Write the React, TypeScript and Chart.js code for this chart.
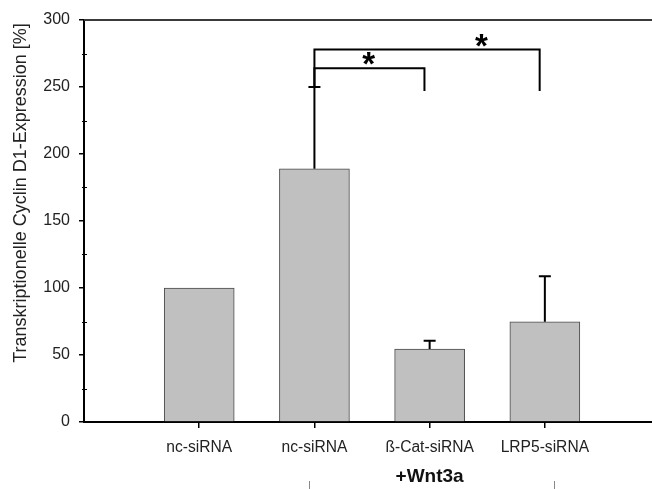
import React, { useEffect, useRef } from "react";
import { Chart, registerables } from "chart.js";

Chart.register(...registerables);

const categories = ["nc-siRNA", "nc-siRNA", "ß-Cat-siRNA", "LRP5-siRNA"];
const means = [100, 189, 54.5, 74.8];
const errors = [0, 61, 6.2, 34];
const yTicks = [0, 50, 100, 150, 200, 250, 300];
const minorTicks = [25, 75, 125, 175, 225, 275];
const yTitle = "Transkriptionelle Cyclin D1-Expression [%]";
const groupLabel = "+Wnt3a";
// significance brackets: from category, to category, bar level, drop level, star position
const brackets = [
  { from: 2, to: 2.955, level: 264, drop: 247, starX: 2.47, starY: 271.6 },
  { from: 2, to: 3.955, level: 278, drop: 247, starX: 3.45, starY: 284.6 },
];
const groupSpan = [1.95, 4.08];

const FONT = "Arial, 'Liberation Sans', sans-serif";

export default function App() {
  const ref = useRef<HTMLCanvasElement | null>(null);

  useEffect(() => {
    if (!ref.current) return;
    const overlay = {
      id: "overlay",
      afterDatasetsDraw(chart: any) {
        const ctx = chart.ctx as CanvasRenderingContext2D;
        const x = chart.scales.x;
        const y = chart.scales.y;
        const area = chart.chartArea;
        ctx.save();
        // top frame line
        ctx.strokeStyle = "#3a3a3a";
        ctx.lineWidth = 2;
        ctx.beginPath();
        ctx.moveTo(area.left, area.top);
        ctx.lineTo(area.right, area.top);
        ctx.stroke();
        // minor ticks
        ctx.strokeStyle = "#000";
        ctx.lineWidth = 1;
        minorTicks.forEach((v) => {
          const py = Math.round(y.getPixelForValue(v)) + 0.5;
          ctx.beginPath();
          ctx.moveTo(area.left - 2, py);
          ctx.lineTo(area.left + 3, py);
          ctx.stroke();
        });
        // error bars
        ctx.strokeStyle = "#000";
        ctx.lineWidth = 2;
        means.forEach((m, i) => {
          const e = errors[i];
          if (!e) return;
          const px = x.getPixelForValue(i + 1);
          const top = y.getPixelForValue(m + e);
          const base = y.getPixelForValue(m);
          ctx.beginPath();
          ctx.moveTo(px, base);
          ctx.lineTo(px, top);
          ctx.moveTo(px - 6, top);
          ctx.lineTo(px + 6, top);
          ctx.stroke();
        });
        // brackets
        ctx.lineWidth = 2;
        brackets.forEach((b) => {
          const x1 = x.getPixelForValue(b.from);
          const x2 = x.getPixelForValue(b.to);
          const ly = y.getPixelForValue(b.level);
          const startY = y.getPixelForValue(means[b.from - 1] + errors[b.from - 1]);
          const dy = y.getPixelForValue(b.drop);
          ctx.beginPath();
          ctx.moveTo(x1, startY);
          ctx.lineTo(x1, ly);
          ctx.lineTo(x2, ly);
          ctx.lineTo(x2, dy);
          ctx.stroke();
          ctx.fillStyle = "#000";
          ctx.font = `bold 33px ${FONT}`;
          ctx.textAlign = "center";
          ctx.textBaseline = "alphabetic";
          const m = ctx.measureText("*");
          const cy = y.getPixelForValue(b.starY);
          const drawY = cy - (m.actualBoundingBoxDescent - m.actualBoundingBoxAscent) / 2;
          ctx.fillText("*", x.getPixelForValue(b.starX), drawY);
        });
        // y title
        ctx.fillStyle = "#222";
        ctx.font = `18px ${FONT}`;
        ctx.textAlign = "center";
        ctx.textBaseline = "middle";
        ctx.translate(21, (y.getPixelForValue(300) + y.getPixelForValue(0)) / 2 - 28);
        ctx.rotate(-Math.PI / 2);
        ctx.fillText(yTitle, 0, 0);
        ctx.setTransform(1, 0, 0, 1, 0, 0);
        // group label
        ctx.fillStyle = "#111";
        ctx.font = `bold 19px ${FONT}`;
        ctx.textAlign = "center";
        ctx.textBaseline = "middle";
        ctx.fillText(groupLabel, x.getPixelForValue(3), area.bottom + 55);
        // group ticks
        ctx.strokeStyle = "#888";
        ctx.lineWidth = 1;
        groupSpan.forEach((v) => {
          const px = Math.round(x.getPixelForValue(v)) + 0.5;
          ctx.beginPath();
          ctx.moveTo(px, area.bottom + 59);
          ctx.lineTo(px, area.bottom + 70);
          ctx.stroke();
        });
        ctx.restore();
      },
    };

    const chart = new Chart(ref.current, {
      type: "bar",
      data: {
        datasets: [
          {
            data: means.map((v, i) => ({ x: i + 1, y: v })),
            backgroundColor: "#c0c0c0",
            borderColor: "#4a4a4a",
            borderWidth: 1,
            barThickness: 70,
            grouped: false,
          } as any,
        ],
      },
      options: {
        responsive: false,
        animation: false,
        events: [],
        layout: { padding: { top: 20, right: 0, bottom: 0, left: 0 } },
        plugins: { legend: { display: false }, tooltip: { enabled: false } },
        scales: {
          x: {
            type: "linear",
            min: 0,
            max: 4.93,
            offset: false,
            afterBuildTicks: (s: any) => {
              s.ticks = categories.map((_, i) => ({ value: i + 1 }));
            },
            afterFit: (s: any) => {
              s.height = 67;
            },
            ticks: {
              autoSkip: false,
              maxRotation: 0,
              padding: 10,
              color: "#222",
              font: { family: FONT, size: 15.6 },
              callback: (_v: any, i: number) => categories[i],
            },
            grid: { offset: false, drawOnChartArea: false, tickLength: 6, color: "#000", lineWidth: 1.5 },
            border: { color: "#000", width: 2 },
          },
          y: {
            min: 0,
            max: 300,
            afterBuildTicks: (s: any) => {
              s.ticks = yTicks.map((v) => ({ value: v }));
            },
            afterFit: (s: any) => {
              s.width = 84;
            },
            ticks: {
              padding: 9,
              color: "#222",
              font: { family: FONT, size: 16 },
            },
            grid: { drawOnChartArea: false, tickLength: 5, color: "#000", lineWidth: 1.5 },
            border: { color: "#000", width: 2 },
          },
        },
      },
      plugins: [overlay],
    } as any);
    return () => chart.destroy();
  }, []);

  return (
    <div style={{ position: "fixed", left: 0, top: 0, width: 652, height: 489, background: "#fff" }}>
      <canvas ref={ref} width={652} height={489} />
    </div>
  );
}
